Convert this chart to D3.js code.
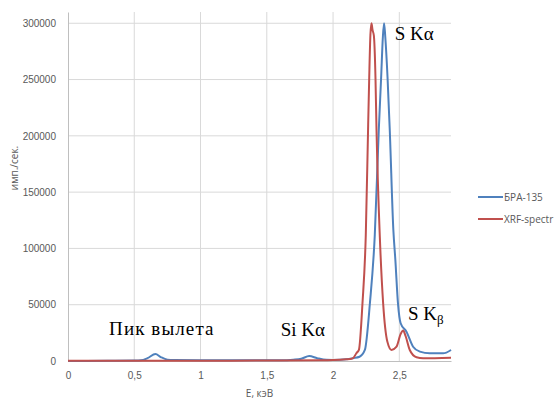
<!DOCTYPE html>
<html>
<head>
<meta charset="utf-8">
<script src="https://cdn.jsdelivr.net/npm/d3@7"></script>
<style>
  body { margin: 0; background: #fff; }
  svg { display: block; font-family: "Open Sans", "DejaVu Sans", sans-serif; }
  .tick text { fill: #595959; font-size: 10px; }
  .note { font-family: "Liberation Serif", "Times New Roman", serif; font-size: 19px; fill: #000; }
</style>
</head>
<body>
<svg id="chart" width="556" height="400"></svg>
<script>
// Series: БРА-135 (blue)
const braEnergy = [0, 0.30, 0.50, 0.55, 0.60, 0.66, 0.70, 0.75, 0.80, 1.00, 1.20, 1.40, 1.60, 1.70,
  1.76, 1.82, 1.88, 1.95, 2.00, 2.10, 2.15, 2.20, 2.24, 2.278, 2.315, 2.345, 2.363, 2.376, 2.385,
  2.394, 2.411, 2.428, 2.455, 2.47, 2.49, 2.51, 2.554, 2.604, 2.655, 2.73, 2.83, 2.89];
const braCounts = [0, 200, 400, 600, 2500, 6200, 3500, 1200, 800, 600, 700, 600, 700, 1200,
  2000, 4400, 2500, 1000, 900, 1500, 2500, 3800, 9800, 51200, 112000, 205000, 252300, 288000, 300000,
  288000, 252300, 205000, 116300, 90000, 51000, 33500, 26000, 12700, 8300, 6800, 6800, 9800];

// Series: XRF-spectr (red)
const xrfEnergy = [0, 0.50, 1.00, 1.50, 1.90, 2.00, 2.10, 2.14, 2.152, 2.177, 2.195, 2.222, 2.247,
  2.265, 2.273, 2.282, 2.290, 2.298, 2.308, 2.320, 2.328, 2.353, 2.378, 2.41, 2.441, 2.479, 2.51,
  2.529, 2.548, 2.579, 2.63, 2.68, 2.89];
const xrfCounts = [300, 300, 300, 400, 600, 800, 1500, 2000, 2600, 7100, 9800, 51200, 112000,
  210000, 252300, 290000, 300000, 294000, 289000, 252300, 205000, 110000, 51200, 17000, 9800, 12700, 24000,
  27000, 22000, 9800, 3300, 2400, 3000];

const seriesNames = ["БРА-135", "XRF-spectr"];
const seriesColors = ["#4F81BD", "#C0504D"];

const xTicks = [0, 0.5, 1, 1.5, 2, 2.5];
const yTicks = [0, 50000, 100000, 150000, 200000, 250000, 300000];

const notes = [
  { text: "Пик вылета", e: 0.31, v: 23000 },
  { text: "Si Kα", e: 1.605, v: 22000 },
  { text: "S Kα", e: 2.465, v: 285000 },
];

const svg = d3.select("#chart");
const plot = { left: 68, right: 451, top: 12, bottom: 361 };

const x = d3.scaleLinear().domain([0, 2.89]).range([plot.left, plot.right]);
const y = d3.scaleLinear().domain([0, 310000]).range([plot.bottom, plot.top]);

// gridlines
svg.append("g")
  .selectAll("line")
  .data(yTicks.slice(1))
  .join("line")
  .attr("x1", plot.left).attr("x2", plot.right)
  .attr("y1", d => y(d)).attr("y2", d => y(d))
  .attr("stroke", "#D9D9D9");

svg.append("g")
  .selectAll("line")
  .data(xTicks.slice(1))
  .join("line")
  .attr("x1", d => x(d)).attr("x2", d => x(d))
  .attr("y1", plot.top).attr("y2", plot.bottom)
  .attr("stroke", "#D9D9D9");

// axes
svg.append("g")
  .attr("transform", `translate(0,${plot.bottom})`)
  .call(d3.axisBottom(x).tickValues(xTicks).tickSize(0).tickPadding(11)
    .tickFormat(d => String(d).replace(".", ",")))
  .call(g => g.select(".domain").attr("stroke", "#BFBFBF"));

svg.append("g")
  .attr("transform", `translate(${plot.left},0)`)
  .call(d3.axisLeft(y).tickValues(yTicks).tickSize(0).tickPadding(12).tickFormat(d3.format("d")))
  .call(g => g.select(".domain").attr("stroke", "#BFBFBF"));

svg.selectAll(".tick text").attr("font-family", null);

// axis titles
svg.append("text")
  .attr("x", (plot.left + plot.right) / 2).attr("y", 397)
  .attr("text-anchor", "middle")
  .attr("fill", "#595959").attr("font-size", "10px")
  .text("E, кэВ");

svg.append("text")
  .attr("transform", "translate(18,168) rotate(-90)")
  .attr("text-anchor", "middle")
  .attr("fill", "#595959").attr("font-size", "10px")
  .text("имп./сек.");

// lines
const line = d3.line()
  .x(d => x(d[0]))
  .y(d => y(d[1]))
  .curve(d3.curveMonotoneX);

const seriesData = [
  d3.zip(braEnergy, braCounts),
  d3.zip(xrfEnergy, xrfCounts),
];

svg.selectAll("path.series")
  .data(seriesData)
  .join("path")
  .attr("class", "series")
  .attr("d", line)
  .attr("fill", "none")
  .attr("stroke", (d, i) => seriesColors[i])
  .attr("stroke-width", 2)
  .attr("stroke-linejoin", "round");

// annotations
svg.selectAll("text.note")
  .data(notes)
  .join("text")
  .attr("class", "note")
  .attr("x", d => x(d.e))
  .attr("y", d => y(d.v))
  .attr("letter-spacing", (d, i) => i === 0 ? "1.1px" : null)
  .text(d => d.text);

const kb = svg.append("text").attr("class", "note")
  .attr("x", x(2.565)).attr("y", y(36500));
kb.append("tspan").text("S K");
kb.append("tspan").attr("font-size", "13px").attr("dy", 4).text("β");

// legend
const legend = svg.append("g");
seriesNames.forEach((name, i) => {
  const ly = 197 + i * 22;
  legend.append("line")
    .attr("x1", 478).attr("x2", 503)
    .attr("y1", ly).attr("y2", ly)
    .attr("stroke", seriesColors[i]).attr("stroke-width", 2);
  legend.append("text")
    .attr("x", 504).attr("y", ly + 3.5)
    .attr("fill", "#595959").attr("font-size", "10px")
    .text(name);
});
</script>
</body>
</html>
